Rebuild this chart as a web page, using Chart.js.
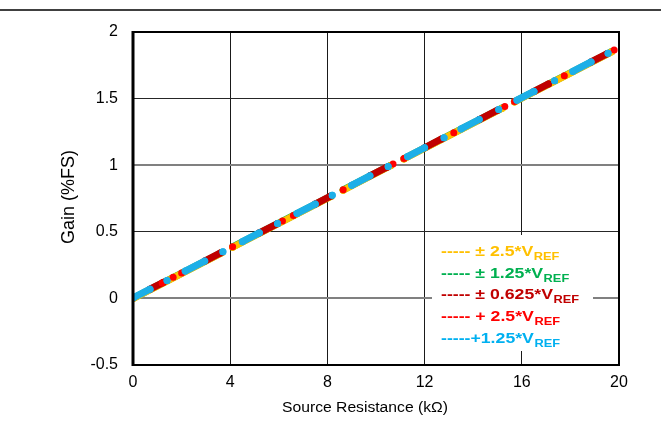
<!DOCTYPE html>
<html>
<head>
<meta charset="utf-8">
<script src="https://cdn.jsdelivr.net/npm/chart.js@4/dist/chart.umd.min.js"></script>
<style>
  html, body { margin: 0; padding: 0; background: #fff; }
  #wrap { width: 661px; height: 425px; position: relative; }
</style>
</head>
<body>
<div id="wrap"><canvas id="c" width="661" height="425"></canvas></div>
<script>
// ---- Data ----
const xTickLabels = [0, 4, 8, 12, 16, 20];
const yTickLabels = [-0.5, 0, 0.5, 1, 1.5, 2];

const xTitle = 'Source Resistance (kΩ)';
const yTitle = 'Gain (%FS)';

const legendLabels = ['± 2.5*V', '± 1.25*V', '± 0.625*V', '+ 2.5*V', '+1.25*V'];
const legendDashes = ['----- ', '----- ', '----- ', '----- ', '-----'];
const legendSub = 'REF';

// +1.25*VREF (blue)
const blueSegX = [[0,0.7],[1.4],[2.15,2.95],[3.7],[4.5,5.2],[5.95],[6.75,7.5],[8.2],[9.0,9.75],[10.5],[11.3,12.0],[12.8],[13.5,14.25],[15.05],[15.8,16.5],[17.35],[18.1,18.85],[19.55]];
const blueSegY = [[0.003,0.069],[0.135],[0.205,0.280],[0.351],[0.426,0.492],[0.562],[0.638,0.708],[0.774],[0.849,0.920],[0.990],[1.065,1.131],[1.206],[1.272,1.343],[1.418],[1.488,1.554],[1.634],[1.704,1.775],[1.841]];

// + 2.5*VREF (red)
const redX = [0,1.2,1.65,2.0,4.1,6.15,6.6,8.65,10.7,11.15,13.2,15.3,15.7,17.75,19.8];
const redY = [0.003,0.116,0.158,0.191,0.388,0.581,0.623,0.816,1.009,1.051,1.244,1.441,1.479,1.672,1.864];

// ± 0.625*VREF (dark red)
const darkSegX = [[0.7,1.25],[2.95,3.6],[5.2,5.95],[7.5,8.15],[9.75,10.45],[12.0,12.7],[14.25,15.0],[16.5,17.1],[18.85,19.5]];
const darkSegY = [[0.069,0.121],[0.280,0.341],[0.492,0.562],[0.708,0.769],[0.920,0.985],[1.131,1.197],[1.343,1.413],[1.554,1.610],[1.775,1.836]];

// ± 2.5*VREF (yellow)
const yellowSegX = [[0,3.65],[4.1,8.15],[8.65,10.6],[11.15,15.2],[15.7,19.7]];
const yellowSegY = [[-0.001,0.342],[0.384,0.765],[0.812,0.996],[1.047,1.428],[1.475,1.851]];

// ± 1.25*VREF (green)
const greenSegX = [[0,3.65],[4.1,8.15],[8.65,10.6],[11.15,15.2],[15.7,19.7]];
const greenSegY = [[0.001,0.344],[0.386,0.767],[0.814,0.998],[1.049,1.430],[1.477,1.853]];

const colors = { yellow: '#FFC000', green: '#00B050', dark: '#C00000', red: '#FF0000', blue: '#00B0F0' };
const markerBlue = '#1CAFE8';

function toPoints(segX, segY) {
  const pts = [];
  segX.forEach((xs, i) => {
    if (i > 0) {
      const prev = segX[i - 1];
      pts.push({ x: (prev[prev.length - 1] + xs[0]) / 2, y: null });
    }
    xs.forEach((x, j) => pts.push({ x: x, y: segY[i][j] }));
  });
  return pts;
}
function toXY(xs, ys) { return xs.map((x, i) => ({ x: x, y: ys[i] })); }

const LW = 7, PR = 3.5;
function lineDs(label, data, color) {
  return {
    label, data, borderColor: color, backgroundColor: color,
    borderWidth: LW, borderCapStyle: 'round', borderJoinStyle: 'round',
    pointRadius: PR, pointBorderWidth: 0, pointBackgroundColor: color,
    spanGaps: false, tension: 0
  };
}

const datasets = [
  lineDs('+1.25*VREF', toPoints(blueSegX, blueSegY), markerBlue),
  { label: '+ 2.5*VREF', data: toXY(redX, redY), showLine: false,
    pointRadius: PR, pointBorderWidth: 0, pointBackgroundColor: colors.red, borderColor: colors.red, backgroundColor: colors.red },
  lineDs('± 0.625*VREF', toPoints(darkSegX, darkSegY), colors.dark),
  lineDs('± 2.5*VREF', toPoints(yellowSegX, yellowSegY), colors.yellow),
  lineDs('± 1.25*VREF', toPoints(greenSegX, greenSegY), colors.green)
];

function drawStretched(ctx, text, x, y, sx) {
  ctx.save();
  ctx.translate(x, y);
  ctx.scale(sx, 1);
  ctx.fillText(text, 0, 0);
  const w = ctx.measureText(text).width * sx;
  ctx.restore();
  return w;
}

const decor = {
  id: 'decor',
  beforeDraw(chart) {
    const ctx = chart.ctx;
    ctx.save();
    ctx.fillStyle = '#fff';
    ctx.fillRect(0, 0, chart.width, chart.height);
    ctx.restore();
  },
  afterDraw(chart) {
    const ctx = chart.ctx;
    const a = chart.chartArea;
    ctx.save();
    // top rule
    ctx.strokeStyle = '#000';
    ctx.lineWidth = 1.5;
    ctx.beginPath(); ctx.moveTo(0, 10); ctx.lineTo(661, 10); ctx.stroke();

    // plot frame
    ctx.lineWidth = 2;
    ctx.strokeRect(a.left, a.top, a.right - a.left, a.bottom - a.top);
    ctx.lineWidth = 3;
    ctx.beginPath(); ctx.moveTo(a.left, a.top - 1); ctx.lineTo(a.left, a.bottom + 1); ctx.stroke();

    // legend box
    ctx.fillStyle = '#fff';
    ctx.fillRect(432, 235, 161, 116);
    const lc = [colors.yellow, colors.green, colors.dark, colors.red, colors.blue];
    const sx = 1.22;
    ctx.textAlign = 'left';
    ctx.textBaseline = 'alphabetic';
    legendLabels.forEach((lab, i) => {
      const base = 256 + 21.7 * i;
      ctx.fillStyle = lc[i];
      ctx.font = 'bold 14.5px "Liberation Sans", Arial, sans-serif';
      let x = 441;
      x += drawStretched(ctx, legendDashes[i] + lab, x, base, sx);
      ctx.font = 'bold 10.5px "Liberation Sans", Arial, sans-serif';
      drawStretched(ctx, legendSub, x + 0.5, base + 4, sx);
    });

    // axis titles
    ctx.fillStyle = '#000';
    ctx.font = '14px "Liberation Sans", Arial, sans-serif';
    ctx.textAlign = 'center';
    ctx.save();
    ctx.translate(365, 412);
    ctx.scale(1.12, 1);
    ctx.fillText(xTitle, 0, 0);
    ctx.restore();

    ctx.save();
    ctx.translate(69, 197);
    ctx.rotate(-Math.PI / 2);
    ctx.font = '18px "Liberation Sans", Arial, sans-serif';
    ctx.textBaseline = 'middle';
    ctx.fillText(yTitle, 0, 0);
    ctx.restore();
    ctx.restore();
  }
};

new Chart(document.getElementById('c'), {
  type: 'line',
  data: { datasets },
  options: {
    responsive: false,
    animation: false,
    events: [],
    layout: { padding: { left: 0, right: 42, top: 32, bottom: 0 } },
    plugins: { legend: { display: false }, tooltip: { enabled: false }, title: { display: false } },
    scales: {
      x: {
        type: 'linear', min: 0, max: 20,
        afterBuildTicks(s) { s.ticks = xTickLabels.map(v => ({ value: v })); },
        afterFit(s) { s.height = 60; },
        border: { display: false },
        grid: { color: '#1a1a1a', lineWidth: 1, drawTicks: false },
        ticks: { color: '#000', padding: 8, maxRotation: 0,
          font: { family: '"Liberation Sans", Arial, sans-serif', size: 16 } }
      },
      y: {
        type: 'linear', min: -0.5, max: 2,
        afterBuildTicks(s) { s.ticks = yTickLabels.map(v => ({ value: v })); },
        afterFit(s) { s.width = 133; },
        border: { display: false },
        grid: {
          drawTicks: false,
          color: (c) => (c.tick && (c.tick.value === 0 || c.tick.value === 1)) ? '#808080' : '#262626',
          lineWidth: (c) => (c.tick && (c.tick.value === 0 || c.tick.value === 1)) ? 2 : 1
        },
        ticks: { color: '#000', padding: 15,
          callback: (v) => String(v),
          font: { family: '"Liberation Sans", Arial, sans-serif', size: 16 } }
      }
    }
  },
  plugins: [decor]
});
</script>
</body>
</html>
